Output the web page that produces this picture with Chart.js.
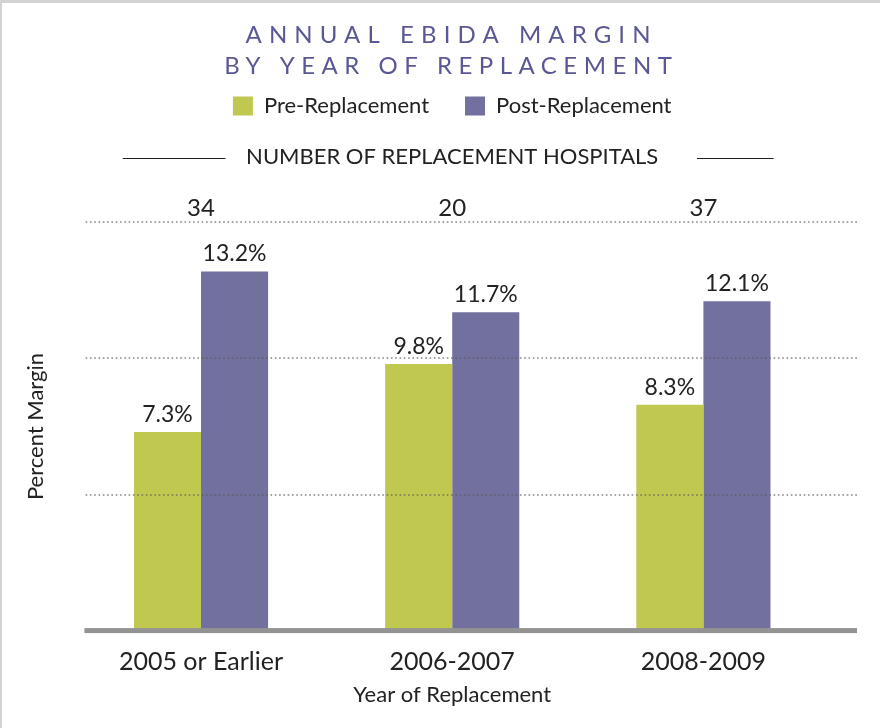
<!DOCTYPE html>
<html><head><meta charset="utf-8">
<script src="https://cdn.jsdelivr.net/npm/chart.js@4.4.1/dist/chart.umd.min.js"></script>
<style>
html,body{margin:0;padding:0;background:#fff;}
#wrap{position:relative;width:880px;height:728px;overflow:hidden;background:#fff;}
#wrap canvas{position:absolute;left:0;top:0;}
.edge-top{position:absolute;left:0;top:0;width:880px;height:3px;background:#d3d3d3;}
.edge-left{position:absolute;left:0;top:0;width:2px;height:728px;background:#d3d3d3;}
</style></head><body>
<div id="wrap"><canvas id="c" width="880" height="728"></canvas><div class="edge-top"></div><div class="edge-left"></div></div>
<script>
const titleLines = ['ANNUAL EBIDA MARGIN', 'BY YEAR OF REPLACEMENT'];
const subtitleText = 'NUMBER OF REPLACEMENT HOSPITALS';
const categories = ['2005 or Earlier', '2006-2007', '2008-2009'];
const seriesNames = ['Pre-Replacement', 'Post-Replacement'];
const preReplacement = [7.3, 9.8, 8.3];
const postReplacement = [13.2, 11.7, 12.1];
const hospitalCounts = [34, 20, 37];
const gridValues = [5, 10, 15];

Chart.defaults.font.family = 'Lato, "Open Sans", sans-serif';
Chart.defaults.color = '#222';

const decor = {
  id: 'decor',
  beforeDraw(chart) {
    const ctx = chart.ctx;
    ctx.save();
    ctx.fillStyle = '#fff';
    ctx.fillRect(0, 0, chart.width, chart.height);
    ctx.fillStyle = '#5a5894';
    ctx.font = '24px Lato';
    ctx.textAlign = 'center';
    ctx.textBaseline = 'alphabetic';
    const sp1 = 7.1, sp2 = 6.5;
    const cx = 448;
    try { ctx.letterSpacing = sp1 + 'px'; } catch (e) {}
    ctx.fillText(titleLines[0], cx + sp1 / 2, 43);
    try { ctx.letterSpacing = sp2 + 'px'; } catch (e) {}
    ctx.fillText(titleLines[1], cx + sp2 / 2, 74);
    ctx.restore();
  },
  afterDatasetsDraw(chart) {
    const {ctx, chartArea, scales: {x, y}} = chart;
    ctx.save();
    // dotted gridlines (drawn over bars, semi-transparent)
    ctx.strokeStyle = 'rgba(90,90,90,0.6)';
    ctx.lineWidth = 2;
    ctx.lineCap = 'round';
    ctx.setLineDash([0, 4.3]);
    gridValues.forEach(v => {
      const py = Math.round(y.getPixelForValue(v));
      ctx.beginPath();
      ctx.moveTo(chartArea.left + 11, py);
      ctx.lineTo(chartArea.right + 29, py);
      ctx.stroke();
    });
    ctx.setLineDash([]);
    // baseline
    const by = y.getPixelForValue(0);
    ctx.fillStyle = '#939393';
    ctx.fillRect(chartArea.left + 9, by - 2.5, chartArea.right + 28 - (chartArea.left + 9), 5);
    // value labels
    ctx.fillStyle = '#222';
    ctx.font = '23px Lato';
    ctx.textAlign = 'center';
    ctx.textBaseline = 'alphabetic';
    chart.data.datasets.forEach((ds, di) => {
      chart.getDatasetMeta(di).data.forEach((bar, i) => {
        ctx.fillText(ds.data[i].toFixed(1) + '%', bar.x, bar.y - 10);
      });
    });
    // hospital counts
    ctx.font = '24px Lato';
    hospitalCounts.forEach((n, i) => {
      ctx.fillText(String(n), x.getPixelForValue(i), chartArea.top - 6);
    });
    // subtitle side rules
    ctx.font = '22px Lato';
    const w = ctx.measureText(subtitleText).width;
    const cx = (chartArea.left + chartArea.right) / 2;
    const ly = Math.round(chartArea.top - 64) + 0.5;
    ctx.strokeStyle = '#222';
    ctx.lineWidth = 1;
    ctx.beginPath();
    ctx.moveTo(cx - w / 2 - 123, ly); ctx.lineTo(cx - w / 2 - 21, ly);
    ctx.moveTo(cx + w / 2 + 39, ly); ctx.lineTo(cx + w / 2 + 115, ly);
    ctx.stroke();
    ctx.restore();
  }
};

new Chart(document.getElementById('c'), {
  type: 'bar',
  data: {
    labels: categories,
    datasets: [
      { label: seriesNames[0], data: preReplacement, backgroundColor: '#c0c84f', borderWidth: 0 },
      { label: seriesNames[1], data: postReplacement, backgroundColor: '#72709e', borderWidth: 0 }
    ]
  },
  options: {
    responsive: false,
    animation: false,
    devicePixelRatio: 1,
    layout: { padding: { top: 59, left: 23, right: 51, bottom: 16 } },
    datasets: { bar: { categoryPercentage: 0.534, barPercentage: 1.0 } },
    plugins: {
      legend: {
        display: true, position: 'top', align: 'center', fullSize: false, weight: 1000,
        labels: { boxWidth: 20, boxHeight: 19, padding: 36, color: '#222', font: { size: 22 } }
      },
      subtitle: {
        display: true, text: subtitleText, position: 'top', fullSize: false, weight: 500,
        color: '#222', font: { size: 22, weight: 'normal' }, padding: { top: 17, bottom: 52 }
      },
      title: { display: false, text: titleLines },
      tooltip: { enabled: false }
    },
    scales: {
      x: {
        grid: { display: false, drawTicks: false },
        border: { display: false },
        ticks: { color: '#222', font: { size: 25 }, padding: 16 },
        title: { display: true, text: 'Year of Replacement', color: '#222', font: { size: 22 }, padding: { top: -11, bottom: 4 } }
      },
      y: {
        min: 0, max: 15,
        ticks: { display: false, stepSize: 5 },
        grid: { display: false, drawTicks: false },
        border: { display: false },
        title: { display: true, text: 'Percent Margin', color: '#222', font: { size: 22 }, padding: { top: 0, bottom: 26 } }
      }
    }
  },
  plugins: [decor]
});
</script>
</body></html>
